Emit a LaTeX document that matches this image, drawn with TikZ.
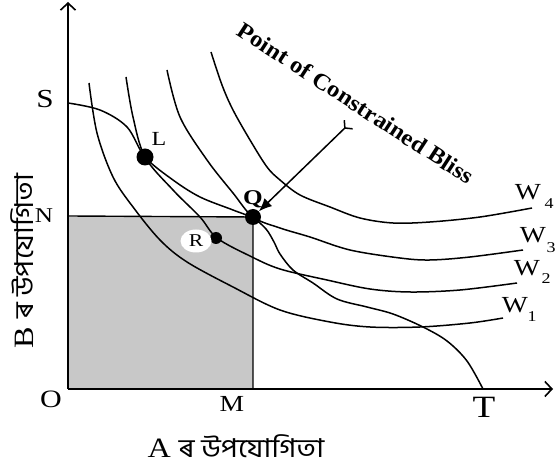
\documentclass[tikz,border=0pt]{standalone}
\usepackage{fontspec}
\setmainfont{Liberation Serif}
\newfontfamily\bnfont[Script=Bengali]{Hind Siliguri}
\usetikzlibrary{arrows.meta,shapes.geometric}
\definecolor{boxgray}{RGB}{200,200,200}
\begin{document}
\begin{tikzpicture}[x=1pt,y=-1pt,
  axis/.style={line width=1.8pt,-{Straight Barb[length=7pt,width=15pt,line width=1.6pt]}},
  curve/.style={line width=1.5pt},
  dot/.style={circle,fill=black,inner sep=0pt,minimum size=#1},
  lbl/.style={font=\fontsize{#1}{#1}\selectfont,xscale=1.2,inner sep=0pt},
  blbl/.style={font=\fontsize{#1}{#1}\selectfont\bfseries,xscale=1.2,inner sep=0pt},
]
\useasboundingbox (0,0) rectangle (560,470);
\coordinate (O) at (68,389);
\coordinate (ytop) at (68,2);
\coordinate (xend) at (553,389);
\coordinate (Ncor) at (68,216);
\coordinate (Mcor) at (253,389);
\coordinate (Qc) at (253,217);
% shaded box
\fill[boxgray] (O) rectangle (Qc);
\draw[line width=1.4pt] (Ncor) -- (Qc) -- (Mcor);
% axes
\draw[axis] (O) -- (ytop);
\draw[axis] (O) -- (xend);
% S-T curve
\draw[curve] plot[smooth,tension=0.55] coordinates {(68,103) (100,110) (127,127) (145,157) (173,180) (200,197) (233,210) (253,218) (266,229) (274,242) (280,254) (293,270) (313,283) (337,299) (367,307) (393,314) (423,327) (447,341) (467,361) (483,389)};
% W1
\draw[curve] plot[smooth,tension=0.55] coordinates {(89,83) (97,133) (113,177) (133,207) (160,240) (187,262) (233,287) (280,310) (330,322) (370,327) (420,327) (470,323) (503,318)};
% W2
\draw[curve] plot[smooth,tension=0.55] coordinates {(126,77) (133,117) (145,157) (173,190) (200,217) (217,238) (250,256) (280,269) (327,280) (370,289) (410,292) (460,290) (517,283)};
% W3
\draw[curve] plot[smooth,tension=0.55] coordinates {(167,70) (180,117) (207,160) (233,193) (253,217) (280,228) (310,237) (350,250) (400,258) (430,260) (470,257) (523,250)};
% W4
\draw[curve] plot[smooth,tension=0.55] coordinates {(211,52) (222,85) (233,110) (250,140) (267,167) (280,180) (300,195) (330,207) (360,218) (393,223) (430,222) (480,217) (532,208)};
% points
\node[dot=17pt] (L) at (145,157) {};
\node[dot=16pt] (Q) at (Qc) {};
\node[dot=12pt] (R) at (216,238) {};
\node[ellipse,fill=white,minimum width=31pt,minimum height=23pt,inner sep=0pt] (Rbg) at (196,241) {};
\node[lbl=18] (Rl) at (196,241) {R};
\node[lbl=20] (Ll) at (159,139) {L};
\node[blbl=21] (Ql) at (253,199) {Q};
% arrow
\coordinate (tail) at (349,124);
\draw[line width=1.5pt,{Straight Barb[reversed,length=5pt,width=12pt,line width=1.5pt]}-{Latex[length=13pt,width=11pt]}] (tail) -- (Q);
\node[font=\fontsize{23}{23}\selectfont\bfseries,inner sep=0pt,rotate=-33,xscale=1.08] (bliss) at (356,103) {Point of Constrained Bliss};
% axis labels
\node[lbl=26] (S) at (45,99) {S};
\node[lbl=21] (N) at (44,216) {N};
\node[lbl=25] (Ol) at (51,399) {O};
\node[lbl=23] (M) at (232,404) {M};
\node[lbl=31] (T) at (484,407) {T};
% W labels
\node[lbl=23] (W4) at (528,192) {W};
\node[lbl=15] (s4) at (549,204) {4};
\node[lbl=23] (W3) at (533,235) {W};
\node[lbl=15] (s3) at (551,248) {3};
\node[lbl=23] (W2) at (527,268) {W};
\node[lbl=15] (s2) at (546,279) {2};
\node[lbl=23] (W1) at (515,305) {W};
\node[lbl=15] (s1) at (532,317) {1};
% titles
\node[inner sep=0pt,xscale=1.15] (xt) at (236,446) {\fontsize{28}{28}\selectfont A \bnfont\fontsize{26}{26}\selectfont ৰ উপযোগিতা};
\node[inner sep=0pt,rotate=90,xscale=1.15] (yt) at (22,261) {\fontsize{28}{28}\selectfont B \bnfont\fontsize{26}{26}\selectfont ৰ উপযোগিতা};
\end{tikzpicture}
\end{document}
